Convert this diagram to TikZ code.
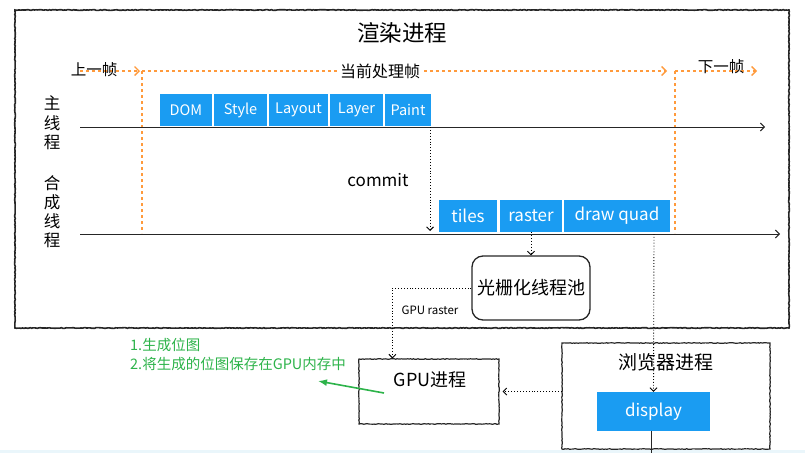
\documentclass[tikz,border=0pt]{standalone}
\usepackage{fontspec}
\setmainfont{Noto Sans CJK SC}
\usetikzlibrary{arrows.meta,decorations.pathmorphing,calc}
\definecolor{blk}{HTML}{1A9CF2}
\definecolor{org}{HTML}{FF9A3C}
\definecolor{grn}{HTML}{2DB34A}
\definecolor{strip}{HTML}{EAF6FB}
\newcommand{\fs}[1]{\fontsize{#1}{#1}\selectfont}
\begin{document}
\begin{tikzpicture}[x=1pt,y=-1pt,
  rough/.style={decorate,decoration={random steps,segment length=1.5pt,amplitude=0.35pt}},
  blkbox/.style={fill=blk,text=white,inner sep=0pt,minimum height=32pt,font=\fs{14.5}},
  cbox/.style={fill=blk,text=white,inner sep=0pt,minimum height=32pt,font=\fs{17}},
  orgarrow/.style={draw=org,line width=1.3pt,dash pattern=on 3pt off 3pt,-{Straight Barb[length=4.5pt,width=9pt]}},
  orgline/.style={draw=org,line width=1.3pt,dash pattern=on 3pt off 3pt},
  axis/.style={draw=black!85,line width=1pt,-{Straight Barb[length=4pt,width=8pt]}},
  dotarrow/.style={draw=black,line width=0.9pt,dotted,-{Straight Barb[length=3.5pt,width=7pt]}},
  lbl/.style={inner sep=0pt,text=black},
  procbox/.style={draw=black!85,line width=1.2pt,rough,inner sep=0pt}
]
\useasboundingbox (0,0) rectangle (805,453);
\fill[strip] (0,450) rectangle (805,453);

% outer render process box
\node[procbox,line width=1.6pt,minimum width=774pt,minimum height=318pt] (render) at (402,169) {};
\node[lbl,font=\fs{22.5}] (title) at (402,33) {渲染进程};

% frame markers
\coordinate (p0) at (80,71);
\coordinate (p1) at (140,71);
\coordinate (v1t) at (142,71);
\coordinate (v1b) at (142,233);
\coordinate (p2) at (667,71);
\coordinate (v2t) at (675,71);
\coordinate (v2b) at (675,233);
\coordinate (p3) at (757,71);
\draw[orgarrow] (p0) -- (p1);
\draw[orgline] (v1t) -- (v1b);
\draw[orgarrow] (v1t) -- (p2);
\draw[orgline] (v2t) -- (v2b);
\draw[orgarrow] (v2t) -- (p3);
\node[lbl,font=\fs{15.5}] (prev) at (94,70) {上一帧};
\node[lbl,font=\fs{16},fill=white,inner xsep=1pt] (cur) at (380,71) {当前处理帧};
\node[lbl,font=\fs{15.5}] (next) at (721,67) {下一帧};

% thread labels
\node[lbl,font=\fs{16.5},align=center] (mainlbl) at (52,123) {主\\[3pt]线\\[3pt]程};
\node[lbl,font=\fs{16.5},align=center] (complbl) at (52,212) {合\\[2.5pt]成\\[2.5pt]线\\[2.5pt]程};

% timelines
\coordinate (m0) at (80,127);
\coordinate (m1) at (765,127);
\coordinate (c0) at (80,234);
\coordinate (c1) at (780,234);
\draw[axis] (m0) -- (m1);
\draw[axis] (c0) -- (c1);

% main thread blocks
\node[blkbox,minimum width=52pt] (dom) at (186,110) {DOM};
\node[blkbox,minimum width=53pt] (style) at (240.5,110) {Style};
\node[blkbox,minimum width=59pt] (layout) at (298.5,110) {Layout};
\node[blkbox,minimum width=53pt] (layer) at (356.5,110) {Layer};
\node[blkbox,minimum width=46pt] (paint) at (408,110) {Paint};

% commit
\node[lbl,font=\fs{17}] (commit) at (378,180) {commit};
\coordinate (cmtop) at (430,127);
\coordinate (cmbot) at (430,231);
\draw[dotarrow] (cmtop) -- (cmbot);

% compositor blocks
\node[cbox,minimum width=58pt] (tiles) at (468,216) {tiles};
\node[cbox,minimum width=62pt] (raster) at (531,216) {raster};
\node[cbox,minimum width=106pt] (dq) at (617,216) {draw quad};

% raster pool
\node[draw=black!85,line width=1.3pt,rounded corners=11pt,minimum width=118pt,minimum height=64pt,inner sep=0pt,font=\fs{18}] (pool) at (531,288) {光栅化线程池};
\draw[dotarrow] (raster.south) -- (pool.north);

% GPU process
\node[procbox,minimum width=140pt,minimum height=65pt] (gpu) at (429,391.5) {};
\node[lbl,font=\fs{18}] (gputxt) at (430,380) {GPU进程};
\coordinate (gpuin) at ($(gpu.north west)+(34,0)$);
\draw[dotarrow] (pool.west) -| (gpuin);
\node[lbl,font=\fs{11.5}] (gpur) at (430,310) {GPU raster};

% browser process
\node[procbox,minimum width=208pt,minimum height=106pt] (browser) at (666,396) {};
\node[lbl,font=\fs{19}] (brtxt) at (666,362) {浏览器进程};
\node[fill=blk,text=white,inner sep=0pt,minimum width=113pt,minimum height=39pt,font=\fs{17}] (display) at (653.5,411.5) {display};
\coordinate (dqout) at (654,234);
\draw[dotarrow] (dqout) -- (display.north);
\draw[dotarrow] (browser.west |- gpu.east) -- ($(gpu.east)+(3,0)$);
\coordinate (dispout) at (651,453);
\draw[draw=black!85,line width=1pt] (display.south -| dispout) -- (dispout);

% green notes
\node[lbl,text=grn,font=\fs{14.5},anchor=west] (note1) at (130,345) {1.生成位图};
\node[lbl,text=grn,font=\fs{14.5},anchor=west] (note2) at (130,364) {2.将生成的位图保存在GPU内存中};
\coordinate (ga0) at (384,393);
\coordinate (ga1) at (318,381);
\draw[draw=grn,line width=1.6pt,-{Latex[length=9pt,width=7pt]}] (ga0) -- (ga1);
\end{tikzpicture}
\end{document}
